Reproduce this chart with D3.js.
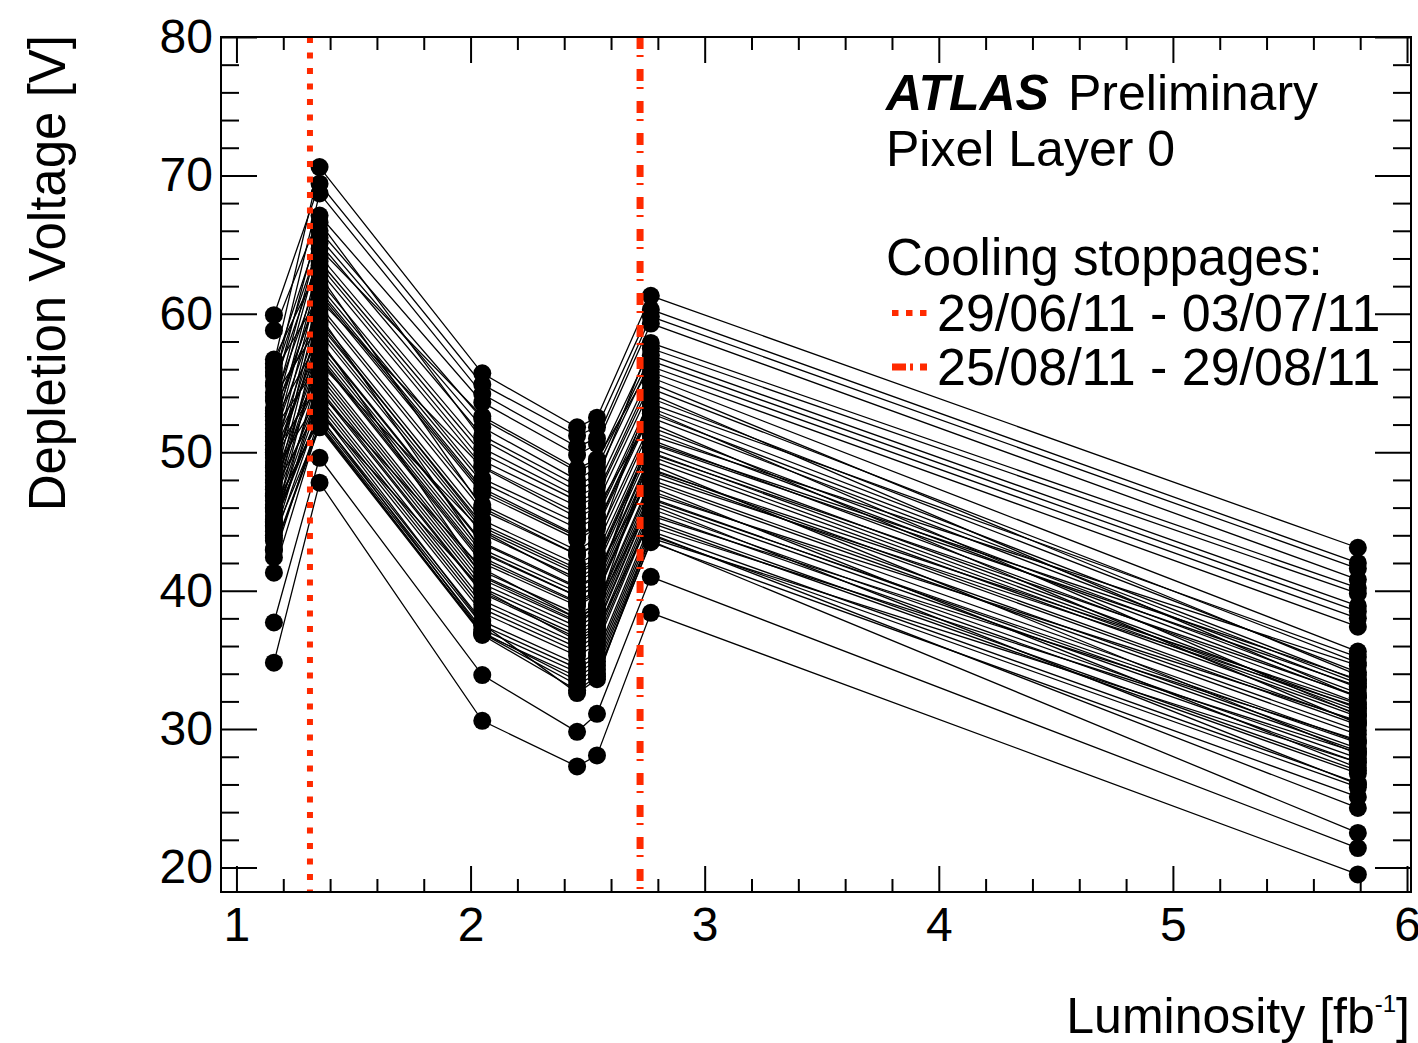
<!DOCTYPE html>
<html>
<head>
<meta charset="utf-8">
<script src="https://cdn.jsdelivr.net/npm/d3@7/dist/d3.min.js"></script>
<style>
  body { margin: 0; background: #fff; }
  text { font-family: "Liberation Sans", Arial, Helvetica, sans-serif; }
</style>
</head>
<body>
<svg class="depl" width="1418" height="1043"></svg>
<script>
// integrated luminosity of each depletion scan [fb^-1]
const lumi = [1.16, 1.355, 2.05, 2.455, 2.54, 2.77, 5.79];

// depletion voltage per module, one array per scan (same module order in each)
const scan1 = [56.4, 59.9, 55.0, 58.8, 54.3, 56.1, 53.2, 55.5, 52.6, 54.8,
  51.4, 56.7, 50.8, 53.7, 49.6, 52.0, 48.3, 55.8, 47.5, 51.1,
  53.0, 46.8, 50.2, 54.0, 45.9, 49.0, 52.3, 47.0, 44.9, 50.5,
  48.0, 46.2, 51.7, 44.3, 49.3, 47.8, 45.4, 50.0, 43.8, 46.5,
  48.6, 44.6, 47.3, 43.6, 45.1, 42.4, 46.0, 41.3, 44.0, 45.7,
  43.0, 44.7, 42.9, 37.7, 34.8, 48.9, 46.9, 52.8, 45.0, 49.8];
const scan2 = [70.6, 69.4, 68.7, 67.1, 66.6, 66.0, 65.5, 65.1, 64.7, 64.2,
  63.8, 63.5, 63.1, 62.8, 62.4, 62.0, 61.7, 61.3, 61.0, 60.6,
  60.3, 59.9, 59.6, 59.2, 58.9, 58.6, 58.2, 57.9, 57.6, 57.3,
  57.0, 56.7, 56.4, 56.1, 55.8, 55.5, 55.2, 54.9, 54.6, 54.3,
  54.0, 53.7, 53.4, 53.1, 52.8, 52.5, 52.3, 52.1, 51.9, 52.6,
  52.0, 53.0, 51.8, 49.6, 47.8, 59.4, 56.8, 61.5, 54.4, 58.0];
const scan3 = [55.7, 54.9, 54.2, 53.6, 50.9, 52.4, 51.8, 51.2, 52.6, 50.3,
  49.9, 49.4, 49.0, 46.0, 48.1, 47.8, 47.4, 47.0, 48.9, 46.2,
  45.8, 42.8, 45.1, 44.8, 44.4, 44.1, 41.0, 43.4, 43.0, 42.7,
  42.4, 42.0, 44.3, 41.4, 41.1, 40.8, 40.5, 40.2, 39.9, 41.6,
  39.3, 39.0, 38.7, 38.4, 40.1, 37.8, 37.5, 37.2, 36.9, 37.0,
  36.9, 37.6, 36.8, 33.9, 30.6, 44.6, 42.2, 47.2, 39.8, 43.5];
const scan4 = [51.8, 51.2, 50.4, 49.8, 47.2, 48.6, 48.0, 47.6, 48.8, 46.8,
  46.5, 46.1, 45.6, 42.6, 44.9, 44.5, 44.0, 43.7, 45.3, 42.9,
  42.6, 39.6, 41.9, 41.6, 41.2, 40.9, 37.8, 40.2, 39.9, 39.6,
  39.2, 38.9, 40.7, 38.3, 38.0, 37.7, 37.4, 37.1, 36.8, 38.0,
  36.2, 35.9, 35.6, 35.3, 36.4, 34.7, 34.4, 34.1, 33.8, 33.5,
  33.2, 32.6, 32.8, 29.8, 27.3, 41.4, 39.1, 43.9, 36.6, 40.3];
const scan5 = [52.5, 51.8, 51.0, 50.6, 48.0, 49.3, 48.9, 48.4, 49.5, 47.5,
  47.0, 46.8, 46.3, 43.4, 45.5, 45.3, 44.8, 44.5, 46.0, 43.8,
  43.3, 40.4, 42.7, 42.3, 42.0, 41.7, 38.6, 41.0, 40.6, 40.3,
  40.0, 39.7, 41.4, 39.0, 38.8, 38.5, 38.2, 37.9, 37.6, 38.9,
  37.0, 36.7, 36.4, 36.1, 37.2, 35.5, 35.2, 34.9, 34.6, 34.3,
  34.0, 33.6, 33.8, 31.1, 28.1, 42.1, 39.8, 44.7, 37.4, 41.1];
const scan6 = [61.3, 60.3, 59.8, 59.3, 57.9, 57.5, 57.0, 56.6, 56.2, 55.8,
  55.4, 55.0, 54.6, 54.2, 53.9, 53.5, 53.2, 52.8, 52.5, 52.1,
  51.8, 51.5, 51.2, 50.9, 50.6, 50.3, 50.0, 49.7, 49.4, 49.1,
  48.8, 48.6, 48.3, 48.0, 47.8, 47.5, 47.2, 47.0, 46.7, 46.4,
  46.2, 45.9, 45.6, 45.4, 45.1, 44.9, 44.6, 44.3, 44.0, 43.8,
  43.5, 44.1, 43.6, 41.0, 38.4, 50.7, 48.7, 53.0, 46.6, 49.9];
const scan7 = [43.1, 42.0, 41.6, 40.8, 40.2, 39.8, 38.9, 38.5, 38.0, 37.4,
  35.6, 33.9, 34.8, 32.3, 34.1, 35.2, 33.5, 33.3, 33.0, 30.4,
  32.6, 32.3, 34.6, 31.9, 33.1, 31.5, 31.3, 31.1, 30.9, 28.2,
  30.5, 30.3, 31.6, 29.9, 29.6, 27.2, 29.1, 30.6, 28.6, 28.4,
  26.0, 27.9, 27.6, 29.2, 27.0, 26.8, 28.3, 26.1, 25.8, 27.6,
  25.1, 24.3, 22.5, 21.4, 19.5, 33.6, 31.8, 31.0, 29.0, 32.4];

// cooling stoppages
const stopLumi = [1.314, 2.724];
const stopLabels = ["29/06/11 - 03/07/11", "25/08/11 - 29/08/11"];

const xTicks = [1, 2, 3, 4, 5, 6];
const yTicks = [20, 30, 40, 50, 60, 70, 80];

function drawChart() {
    const svg = d3.select("svg.depl");
    const left = 221, right = 1411, top = 37, bottom = 892;
    const red = "#ff2a00";
    const dashes = ["6,9.5", "12,6,2,12"];

    const x = d3.scaleLinear().domain([0.934, 6.017]).range([left, right]);
    const y = d3.scaleLinear().domain([18.23, 80]).range([bottom, top]);

    const scans = [scan1, scan2, scan3, scan4, scan5, scan6, scan7];
    const modules = scan1.map((_, i) => scans.map((s, j) => [lumi[j], s[i]]));

    // module curves
    const line = d3.line().x(d => x(d[0])).y(d => y(d[1]));
    const g = svg.append("g");
    g.selectAll("path.mod")
        .data(modules)
        .enter().append("path")
        .attr("class", "mod")
        .attr("d", line)
        .attr("fill", "none")
        .attr("stroke", "#000")
        .attr("stroke-width", 1.3);

    g.selectAll("circle")
        .data(modules.flat())
        .enter().append("circle")
        .attr("cx", d => x(d[0]))
        .attr("cy", d => y(d[1]))
        .attr("r", 9)
        .attr("fill", "#000");

    // cooling stoppage markers
    svg.selectAll("line.stop")
        .data(stopLumi)
        .enter().append("line")
        .attr("class", "stop")
        .attr("x1", d => x(d)).attr("x2", d => x(d))
        .attr("y1", top).attr("y2", bottom)
        .attr("stroke", red)
        .attr("stroke-width", (d, i) => i === 0 ? 6 : 7)
        .attr("stroke-dasharray", (d, i) => dashes[i]);

    // axes, ROOT style: ticks pointing inwards on all four sides
    const minorX = d3.range(1, 6.01, 0.2).filter(v => Math.abs(v - Math.round(v)) > 1e-6);
    const minorY = d3.range(20, 80, 2).filter(v => v % 10 !== 0);

    const axisStyle = sel => {
        sel.select(".domain").remove();
        sel.selectAll(".tick line").attr("stroke", "#000").attr("stroke-width", 2);
        sel.selectAll("text")
            .attr("fill", "#000")
            .style("font-size", "48px")
            .style("font-family", '"Liberation Sans", Arial, sans-serif');
    };

    svg.append("g")
        .attr("transform", `translate(0, ${bottom})`)
        .call(d3.axisBottom(x).tickValues(xTicks).tickFormat(d3.format("d")).tickSize(-26).tickPadding(15))
        .call(axisStyle);
    svg.append("g")
        .attr("transform", `translate(0, ${bottom})`)
        .call(d3.axisBottom(x).tickValues(minorX).tickFormat("").tickSize(-13))
        .call(axisStyle);
    svg.append("g")
        .attr("transform", `translate(0, ${top})`)
        .call(d3.axisTop(x).tickValues(xTicks).tickFormat("").tickSize(-26))
        .call(axisStyle);
    svg.append("g")
        .attr("transform", `translate(0, ${top})`)
        .call(d3.axisTop(x).tickValues(minorX).tickFormat("").tickSize(-13))
        .call(axisStyle);

    svg.append("g")
        .attr("transform", `translate(${left}, 0)`)
        .call(d3.axisLeft(y).tickValues(yTicks).tickFormat(d3.format("d")).tickSize(-36).tickPadding(8))
        .call(axisStyle);
    svg.append("g")
        .attr("transform", `translate(${left}, 0)`)
        .call(d3.axisLeft(y).tickValues(minorY).tickFormat("").tickSize(-18))
        .call(axisStyle);
    svg.append("g")
        .attr("transform", `translate(${right}, 0)`)
        .call(d3.axisRight(y).tickValues(yTicks).tickFormat("").tickSize(-36))
        .call(axisStyle);
    svg.append("g")
        .attr("transform", `translate(${right}, 0)`)
        .call(d3.axisRight(y).tickValues(minorY).tickFormat("").tickSize(-18))
        .call(axisStyle);

    svg.append("rect")
        .attr("x", left).attr("y", top)
        .attr("width", right - left).attr("height", bottom - top)
        .attr("fill", "none")
        .attr("stroke", "#000")
        .attr("stroke-width", 2);

    // axis titles
    svg.append("text")
        .attr("transform", "translate(65, 35) rotate(-90)")
        .attr("text-anchor", "end")
        .style("font-size", "51px")
        .text("Depletion Voltage [V]");

    const xt = svg.append("text")
        .attr("x", 1410).attr("y", 1033)
        .attr("text-anchor", "end")
        .style("font-size", "50px");
    xt.append("tspan").text("Luminosity [fb");
    xt.append("tspan").attr("dy", -21).style("font-size", "24px").text("-1");
    xt.append("tspan").attr("dy", 21).text("]");

    // labels and legend
    const t1 = svg.append("text").attr("x", 886).attr("y", 110).style("font-size", "50px");
    t1.append("tspan").style("font-weight", "bold").style("font-style", "italic").text("ATLAS");
    t1.append("tspan").attr("x", 1068).text("Preliminary");

    svg.append("text").attr("x", 886).attr("y", 166).style("font-size", "50px").text("Pixel Layer 0");
    svg.append("text").attr("x", 886).attr("y", 275).style("font-size", "51px").text("Cooling stoppages:");

    const leg = svg.selectAll("g.leg")
        .data(stopLabels)
        .enter().append("g")
        .attr("class", "leg")
        .attr("transform", (d, i) => `translate(0, ${313 + i * 54})`);
    leg.append("line")
        .attr("x1", 892).attr("x2", 930)
        .attr("stroke", red)
        .attr("stroke-width", (d, i) => i === 0 ? 6 : 7)
        .attr("stroke-dasharray", (d, i) => i === 0 ? "6.5,7.5" : "14,4,3,7,7");
    leg.append("text")
        .attr("x", 937).attr("y", 18)
        .style("font-size", "52px")
        .text(d => d);
}

drawChart();
</script>
</body>
</html>
